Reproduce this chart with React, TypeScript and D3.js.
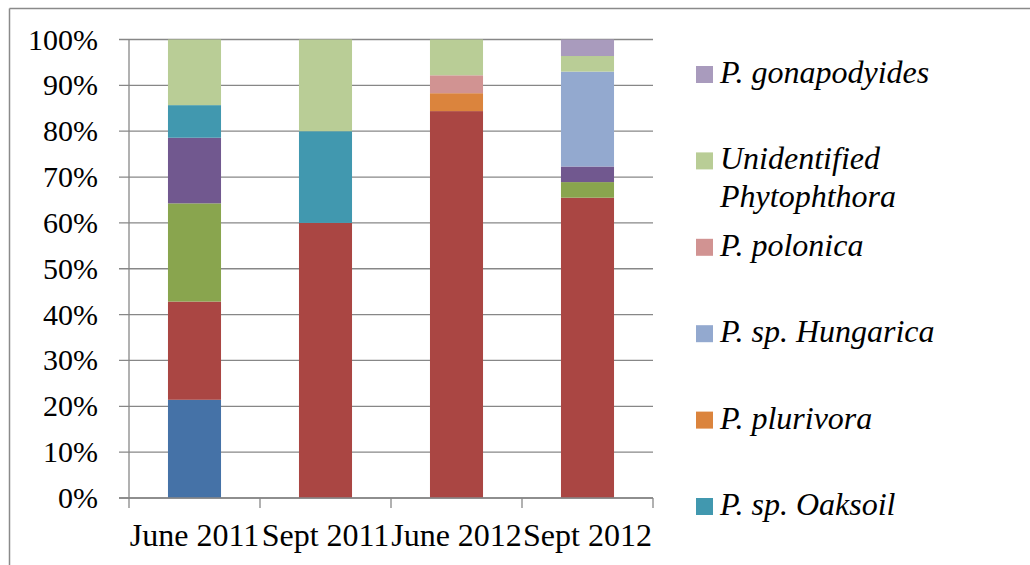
import * as d3 from "d3";

// sampling dates
const categories = ["June 2011", "Sept 2011", "June 2012", "Sept 2012"];

// stack order, bottom to top (first four are not named in the visible legend)
const seriesNames = [
  "Series 1",
  "Series 2",
  "Series 3",
  "Series 4",
  "P. sp. Oaksoil",
  "P. plurivora",
  "P. sp. Hungarica",
  "P. polonica",
  "Unidentified Phytophthora",
  "P. gonapodyides",
];
const seriesColors = [
  "#4572A7", "#AA4643", "#89A54E", "#71588F", "#4198AF",
  "#DB843D", "#93A9CF", "#D19392", "#B9CD96", "#A99BBD",
];

// share of isolates (%) per series, one value per category
const s1 = [21.4, 0, 0, 0];
const s2 = [21.4, 60, 84.3, 65.5];
const s3 = [21.4, 0, 0, 3.4];
const s4 = [14.3, 0, 0, 3.4];
const oaksoil = [7.1, 20, 0, 0];
const plurivora = [0, 0, 3.9, 0];
const hungarica = [0, 0, 0, 20.7];
const polonica = [0, 0, 3.9, 0];
const unidentified = [14.3, 20, 7.8, 3.4];
const gonapodyides = [0, 0, 0, 3.6];

const yTicks = [0, 10, 20, 30, 40, 50, 60, 70, 80, 90, 100];

// legend as shown (top to bottom), lines split like the original
const legendItems = [
  { lines: ["P. gonapodyides"], series: 9 },
  { lines: ["Unidentified", "Phytophthora"], series: 8 },
  { lines: ["P. polonica"], series: 7 },
  { lines: ["P. sp. Hungarica"], series: 6 },
  { lines: ["P. plurivora"], series: 5 },
  { lines: ["P. sp. Oaksoil"], series: 4 },
];

const W = 1030;
const H = 565;
const FONT = "Liberation Serif, DejaVu Serif, serif";
const GRID = "#878787";

export default function App() {
  const values = [s1, s2, s3, s4, oaksoil, plurivora, hungarica, polonica, unidentified, gonapodyides];
  const rows = categories.map((c, i) => {
    const r: Record<string, any> = { cat: c };
    seriesNames.forEach((n, k) => (r[n] = values[k][i]));
    return r;
  });
  const stacked = d3.stack<any>().keys(seriesNames).offset(d3.stackOffsetExpand)(rows);

  const x = d3.scaleBand().domain(categories).range([129, 653]).padding(0);
  const y = d3.scaleLinear().domain([0, 1]).range([498, 39.5]);
  const barW = x.bandwidth() * 0.405;

  const bounds = [...categories.map((c) => x(c)!), 653];

  return (
    <div style={{ position: "fixed", left: 0, top: 0 }}>
      <svg width={W} height={H} style={{ display: "block", background: "#fff", fontFamily: FONT }}>
        {/* outer chart frame */}
        <line x1={9.5} x2={W} y1={8.5} y2={8.5} stroke="#8a8a8a" strokeWidth={1.5} />
        <line x1={9.5} x2={9.5} y1={8.5} y2={H} stroke="#8a8a8a" strokeWidth={1.5} />

        {/* gridlines + y ticks */}
        {yTicks.map((t) => (
          <line key={t} x1={119} x2={653} y1={y(t / 100)} y2={y(t / 100)} stroke={GRID} strokeWidth={1.3} />
        ))}
        {yTicks.map((t) => (
          <text key={"l" + t} x={98} y={y(t / 100) + 10} textAnchor="end" fontSize={30} fill="#000">
            {t}%
          </text>
        ))}

        {/* bars */}
        {stacked.map((layer, k) =>
          layer.map((d, i) => {
            const h = y(d[0]) - y(d[1]);
            if (h <= 0) return null;
            return (
              <rect
                key={k + "-" + i}
                x={x(categories[i])! + (x.bandwidth() - barW) / 2}
                y={y(d[1])}
                width={barW}
                height={h}
                fill={seriesColors[k]}
              />
            );
          })
        )}

        {/* axes */}
        <line x1={129} x2={129} y1={39.5} y2={498} stroke={GRID} strokeWidth={1.3} />
        <line x1={119} x2={653} y1={498} y2={498} stroke={GRID} strokeWidth={1.3} />
        {bounds.map((b, i) => (
          <line key={"xt" + i} x1={b} x2={b} y1={498} y2={508} stroke={GRID} strokeWidth={1.3} />
        ))}
        {categories.map((c) => (
          <text key={c} x={x(c)! + x.bandwidth() / 2} y={546} textAnchor="middle" fontSize={32} fill="#000">
            {c}
          </text>
        ))}

        {/* legend */}
        {legendItems.map((it, i) => {
          const base = 83 + i * 86.4;
          return (
            <g key={it.lines[0]}>
              <rect x={696} y={base - 17} width={17} height={17} fill={seriesColors[it.series]} />
              <text fontSize={32} fontStyle="italic" fill="#000">
                {it.lines.map((l, j) => (
                  <tspan key={l} x={720} y={base + j * 37.5}>
                    {l}
                  </tspan>
                ))}
              </text>
            </g>
          );
        })}
      </svg>
    </div>
  );
}
